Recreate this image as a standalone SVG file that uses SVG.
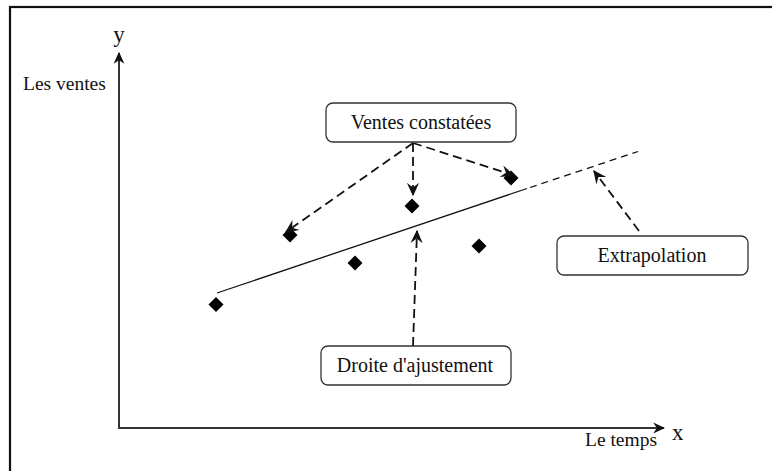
<svg xmlns="http://www.w3.org/2000/svg" width="772" height="471" viewBox="0 0 772 471">
  <defs>
    <marker id="axisHead" viewBox="0 0 10 10" refX="9" refY="5" markerWidth="6" markerHeight="6" orient="auto" markerUnits="strokeWidth">
      <path d="M0,0.5 L10,5 L0,9.5 L3,5 Z" fill="#111"/>
    </marker>
    <marker id="dashHead" viewBox="0 0 10 10" refX="9" refY="5" markerWidth="7.5" markerHeight="7.5" orient="auto" markerUnits="strokeWidth">
      <path d="M0,0.5 L10,5 L0,9.5 L3.5,5 Z" fill="#111"/>
    </marker>
    <path id="diamond" d="M0,-7.5 L7.5,0 L0,7.5 L-7.5,0 Z"/>
  </defs>
  <style>
    .frame { fill: none; stroke: #111; stroke-width: 2.2; }
    .axis { stroke: #333; stroke-width: 2; fill: none; }
    .fit { stroke: #111; stroke-width: 1.3; fill: none; }
    .extra { stroke: #111; stroke-width: 1.3; fill: none; stroke-dasharray: 7 5; }
    .call { stroke: #111; stroke-width: 1.8; fill: none; stroke-dasharray: 9 5; marker-end: url(#dashHead); }
    .box { fill: #fff; stroke: #333; stroke-width: 1.3; }
    .pt { fill: #000; }
    text { font-family: "Liberation Serif", "Times New Roman", serif; fill: #111; }
    .lbl { font-size: 20px; text-anchor: middle; }
    .ax { font-size: 19.5px; }
    .var { font-size: 23px; }
  </style>

  <rect width="772" height="471" fill="#fff"/>
  <!-- outer frame (right and bottom edges fall outside the canvas) -->
  <rect class="frame" x="10" y="7" width="770" height="480"/>

  <!-- axes -->
  <g id="axes">
    <line class="axis" x1="119" y1="429" x2="119" y2="53" marker-end="url(#axisHead)"/>
    <line class="axis" x1="118" y1="428" x2="664" y2="428" marker-end="url(#axisHead)"/>
    <text class="var" x="119" y="42" text-anchor="middle">y</text>
    <text class="ax" x="23" y="90">Les ventes</text>
    <text class="var" x="672" y="440">x</text>
    <text class="ax" x="585" y="446">Le temps</text>
  </g>

  <!-- fitted line and its extrapolation -->
  <g id="fit-line">
    <line class="fit" x1="217" y1="293" x2="527" y2="188.5"/>
    <line class="extra" x1="530" y1="187.5" x2="638" y2="151.5"/>
  </g>

  <!-- observed sales -->
  <g id="points">
    <use href="#diamond" class="pt" x="216" y="304.5"/>
    <use href="#diamond" class="pt" x="290" y="235"/>
    <use href="#diamond" class="pt" x="355" y="263"/>
    <use href="#diamond" class="pt" x="412" y="206"/>
    <use href="#diamond" class="pt" x="479" y="246"/>
    <use href="#diamond" class="pt" x="511" y="178"/>
  </g>

  <!-- connectors -->
  <g id="connectors">
    <line class="call" x1="413" y1="143" x2="286" y2="232"/>
    <line class="call" x1="413" y1="143" x2="413" y2="195"/>
    <line class="call" x1="413" y1="143" x2="513" y2="175"/>
    <line class="call" x1="413" y1="346" x2="417" y2="231"/>
    <line class="call" x1="639" y1="231" x2="594" y2="171"/>
  </g>

  <g id="ventes-constatees">
    <rect class="box" x="326" y="103" width="190" height="39" rx="7"/>
    <text class="lbl" x="421" y="129">Ventes constatées</text>
  </g>

  <g id="extrapolation">
    <rect class="box" x="557" y="236" width="191" height="39" rx="7"/>
    <text class="lbl" x="652" y="262">Extrapolation</text>
  </g>

  <g id="droite-ajustement">
    <rect class="box" x="321" y="346" width="190" height="39" rx="7"/>
    <text class="lbl" x="415" y="372">Droite d'ajustement</text>
  </g>
</svg>
